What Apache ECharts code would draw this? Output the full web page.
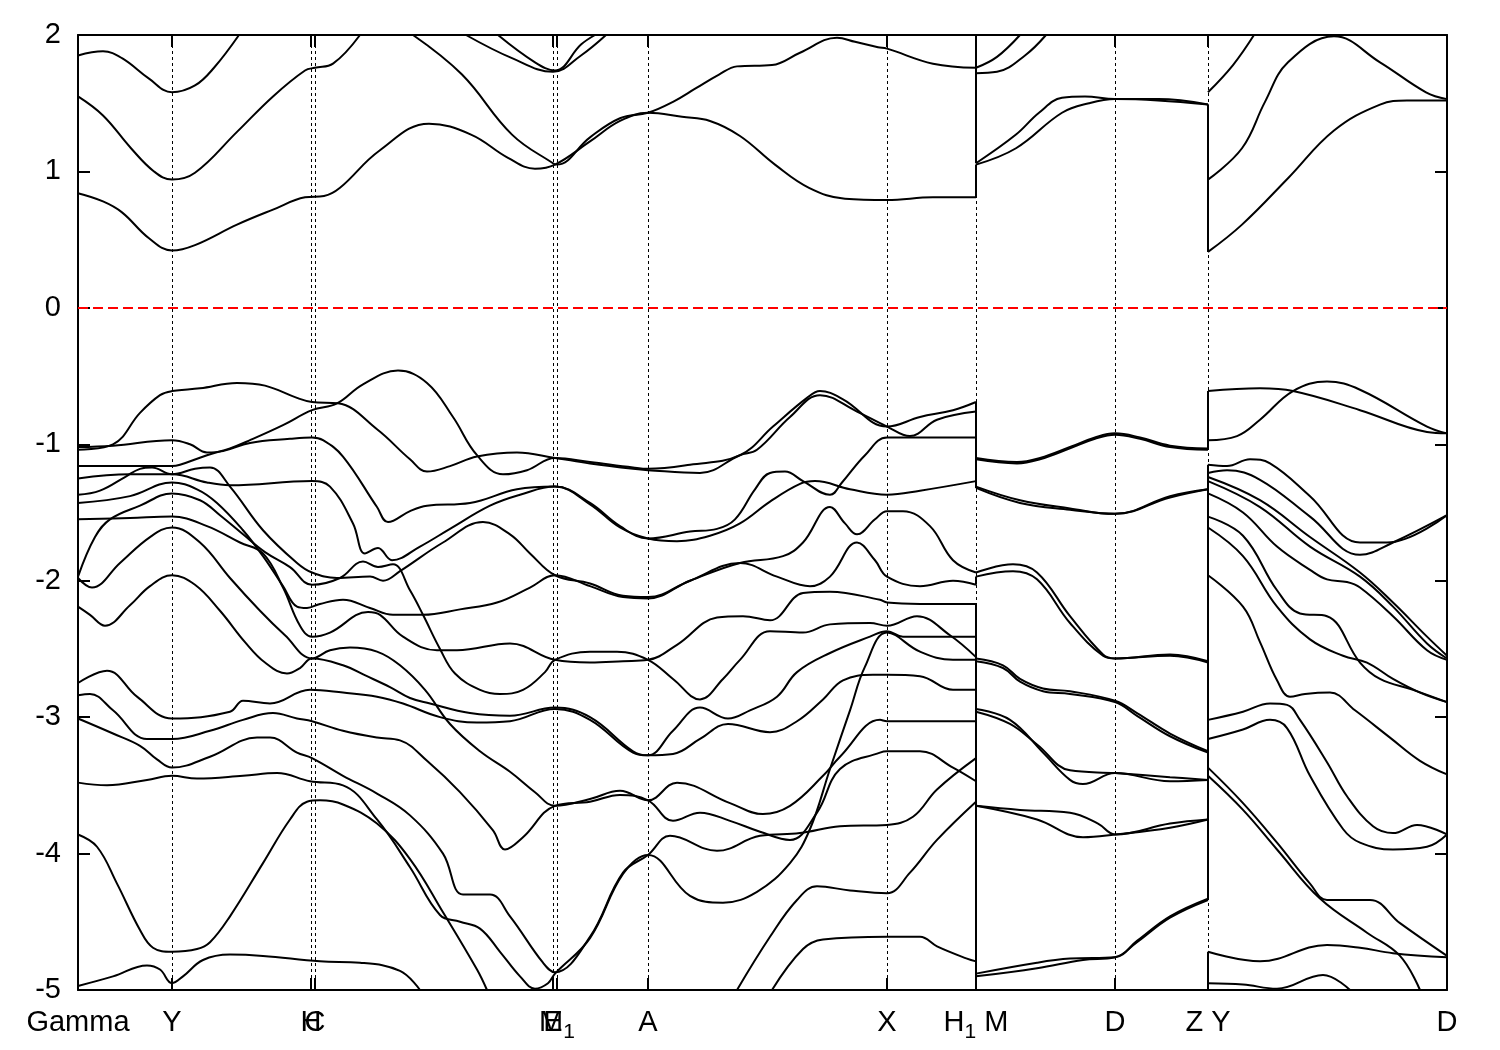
<!DOCTYPE html>
<html><head><meta charset="utf-8">
<script src="https://cdn.jsdelivr.net/npm/echarts@6/dist/echarts.min.js"></script>
<style>html,body{margin:0;padding:0;background:#fff}#c{width:1500px;height:1050px}</style>
</head><body><div id="c"></div>
<script>
// ---- k-path (arbitrary path-length units) and labels ----
const kPoints = [0, 94, 233, 237, 475, 479, 570, 809, 898, 1037, 1130, 1369];
const kNames  = ['Gamma','Y','H','C','E','M_1','A','X','H_1 M','D','Z Y','D'];
const kBreak1 = 898, kBreak2 = 1130;
const yTicks = [-5,-4,-3,-2,-1,0,1,2];

// ---- conduction bands, Gamma ... H1 ----
const c1 = [[0,0.84],[25,0.78],[44,0.70],[71,0.51],[94,0.42],[117,0.46],[159,0.61],[195,0.72],[227,0.81],[246,0.82],[262,0.88],[301,1.15],[351,1.35],[393,1.27],[430,1.10],[457,1.02],[477,1.05],[512,1.22],[542,1.37],[570,1.43],[604,1.40],[632,1.37],[662,1.26],[697,1.05],[731,0.88],[767,0.80],[809,0.79],[855,0.81],[898,0.81]];
const c2 = [[0,1.55],[25,1.41],[53,1.17],[76,1.00],[94,0.94],[117,0.99],[159,1.29],[195,1.55],[227,1.74],[237,1.76],[255,1.79],[282,2.0]];
const c3 = [[335,2.0],[384,1.71],[434,1.27],[475,1.06],[479,1.05],[512,1.25],[542,1.39],[570,1.43],[595,1.51],[618,1.61],[641,1.71],[659,1.77],[694,1.78],[722,1.87],[759,1.98],[777,1.95],[800,1.91],[809,1.90],[855,1.79],[898,1.76]];
const c4 = [[0,1.85],[25,1.88],[44,1.83],[71,1.68],[94,1.58],[117,1.63],[136,1.76],[161,2.0]];
const c5 = [[388,2.0],[434,1.83],[475,1.73],[503,1.85],[528,2.0]];
const c6 = [[420,2.0],[457,1.80],[477,1.74],[503,1.93],[517,2.0]];
// ---- conduction bands, M ... Z ----
const d1 = [[898,1.06],[938,1.27],[961,1.43],[984,1.54],[1007,1.55],[1037,1.53],[1080,1.53],[1130,1.49]];
const d2 = [[898,1.05],[938,1.17],[984,1.43],[1011,1.50],[1037,1.53],[1080,1.52],[1130,1.49]];
const d3 = [[898,1.76],[919,1.84],[942,2.0]];
const d4 = [[898,1.72],[919,1.73],[947,1.85],[968,2.0]];
// ---- conduction bands, Y ... D ----
const e1 = [[1130,0.41],[1164,0.61],[1210,0.95],[1256,1.30],[1302,1.49],[1329,1.52],[1369,1.52]];
const e2 = [[1130,0.94],[1164,1.17],[1187,1.51],[1210,1.80],[1256,1.99],[1302,1.80],[1348,1.58],[1369,1.53]];
const e3 = [[1130,1.58],[1155,1.78],[1176,2.0]];

// ---- valence bands, Gamma ... H1 ----
const vA = [[0,-1.04],[35,-1.00],[62,-0.77],[82,-0.64],[94,-0.61],[122,-0.59],[159,-0.55],[187,-0.57],[219,-0.66],[234,-0.69],[260,-0.70],[299,-0.89],[332,-1.11],[349,-1.20],[372,-1.16],[399,-1.09],[439,-1.06],[477,-1.10],[512,-1.14],[555,-1.18],[570,-1.19],[622,-1.21],[662,-1.08],[679,-1.04],[712,-0.80],[742,-0.64],[779,-0.76],[809,-0.87],[832,-0.94],[859,-0.82],[898,-0.76]];
const vB = [[0,-1.16],[94,-1.16],[102,-1.15],[129,-1.08],[152,-1.03],[172,-0.97],[205,-0.86],[234,-0.75],[259,-0.70],[285,-0.56],[320,-0.46],[349,-0.55],[375,-0.80],[399,-1.08],[425,-1.22],[449,-1.19],[477,-1.10],[512,-1.13],[555,-1.17],[570,-1.18],[612,-1.15],[662,-1.08],[695,-0.87],[729,-0.66],[742,-0.61],[765,-0.67],[809,-0.87],[842,-0.80],[875,-0.75],[898,-0.69]];
const vC = [[0,-1.02],[35,-1.01],[94,-0.97],[112,-1.00],[129,-1.06],[145,-1.05],[172,-0.99],[212,-0.96],[234,-0.95],[245,-0.97],[265,-1.09],[299,-1.46],[310,-1.57],[332,-1.49],[349,-1.45],[392,-1.43],[439,-1.33],[477,-1.31],[512,-1.43],[542,-1.60],[570,-1.69],[612,-1.64],[639,-1.62],[657,-1.55],[677,-1.33],[692,-1.21],[707,-1.20],[725,-1.27],[752,-1.37],[764,-1.28],[787,-1.08],[809,-0.95],[852,-0.95],[898,-0.95]];
const vD = [[0,-1.25],[52,-1.22],[94,-1.22],[129,-1.28],[152,-1.30],[234,-1.27],[252,-1.31],[275,-1.58],[287,-1.80],[300,-1.76],[314,-1.85],[342,-1.75],[372,-1.62],[412,-1.45],[442,-1.37],[477,-1.31],[512,-1.44],[542,-1.61],[570,-1.69],[599,-1.71],[632,-1.67],[662,-1.58],[692,-1.42],[722,-1.29],[737,-1.27],[772,-1.33],[809,-1.37],[842,-1.34],[898,-1.27]];
const vE = [[0,-1.37],[22,-1.34],[47,-1.24],[62,-1.18],[74,-1.17],[94,-1.22],[117,-1.18],[132,-1.17],[152,-1.31],[185,-1.63],[219,-1.87],[234,-1.94],[259,-1.98],[292,-1.97],[305,-2.00],[322,-1.93],[365,-1.72],[405,-1.57],[432,-1.66],[452,-1.80],[477,-1.96],[512,-2.02],[545,-2.11],[570,-2.12],[612,-2.00],[662,-1.87],[705,-1.82],[725,-1.72],[752,-1.46],[767,-1.58],[779,-1.66],[797,-1.55],[809,-1.49],[825,-1.49],[852,-1.60],[875,-1.85],[898,-1.94]];
const vF = [[0,-1.97],[17,-1.68],[32,-1.55],[62,-1.45],[94,-1.36],[122,-1.41],[142,-1.52],[165,-1.66],[187,-1.79],[212,-1.90],[234,-2.03],[262,-1.98],[285,-1.86],[300,-1.90],[315,-1.88],[332,-2.07],[345,-2.25],[362,-2.50],[377,-2.68],[402,-2.80],[422,-2.83],[445,-2.80],[467,-2.67],[477,-2.58],[512,-2.52],[539,-2.52],[570,-2.58],[595,-2.72],[622,-2.87],[645,-2.72],[662,-2.58],[692,-2.37],[725,-2.38],[752,-2.32],[792,-2.31],[809,-2.33],[839,-2.26],[872,-2.40],[898,-2.56]];
const vG = [[0,-1.43],[52,-1.38],[94,-1.28],[119,-1.33],[139,-1.43],[165,-1.63],[185,-1.82],[205,-2.04],[219,-2.19],[229,-2.20],[242,-2.17],[265,-2.14],[292,-2.20],[315,-2.25],[345,-2.25],[382,-2.21],[419,-2.16],[452,-2.05],[477,-1.96],[512,-2.04],[545,-2.12],[570,-2.13],[612,-2.00],[662,-1.87],[699,-1.97],[732,-2.04],[752,-1.97],[779,-1.72],[797,-1.85],[809,-1.97],[842,-2.04],[875,-2.00],[898,-2.03]];
const vH = [[0,-1.55],[52,-1.54],[94,-1.53],[129,-1.60],[162,-1.72],[185,-1.80],[205,-2.05],[222,-2.33],[234,-2.41],[252,-2.38],[290,-2.23],[302,-2.25],[325,-2.41],[359,-2.51],[379,-2.51],[432,-2.46],[477,-2.58],[512,-2.60],[545,-2.59],[570,-2.58],[599,-2.47],[639,-2.27],[665,-2.26],[692,-2.29],[725,-2.09],[752,-2.08],[802,-2.14],[809,-2.16],[842,-2.17],[898,-2.17]];
const vI = [[0,-1.98],[14,-2.05],[42,-1.87],[72,-1.68],[94,-1.61],[122,-1.72],[152,-1.98],[182,-2.22],[207,-2.40],[234,-2.57],[252,-2.51],[272,-2.49],[299,-2.52],[322,-2.62],[347,-2.80],[372,-3.05],[402,-3.25],[432,-3.40],[457,-3.55],[477,-3.65],[512,-3.60],[542,-3.54],[570,-3.61],[599,-3.48],[652,-3.63],[685,-3.71],[712,-3.65],[745,-3.43],[762,-3.29],[802,-3.02],[809,-3.03],[850,-3.03],[898,-3.03]];
const vJ = [[0,-2.19],[12,-2.25],[27,-2.33],[52,-2.18],[72,-2.04],[94,-1.96],[117,-2.03],[142,-2.22],[167,-2.45],[187,-2.60],[209,-2.68],[222,-2.64],[234,-2.57],[265,-2.62],[289,-2.70],[312,-2.78],[332,-2.86],[352,-2.90],[392,-2.97],[432,-2.99],[477,-2.93],[512,-3.00],[555,-3.25],[570,-3.28],[595,-3.10],[622,-2.93],[650,-3.01],[672,-2.95],[699,-2.85],[719,-2.67],[752,-2.53],[792,-2.41],[809,-2.37],[825,-2.41],[898,-2.41]];
const vK = [[0,-2.75],[29,-2.66],[59,-2.85],[94,-3.01],[152,-2.96],[165,-2.88],[192,-2.90],[232,-2.80],[265,-2.82],[299,-2.85],[325,-2.90],[362,-3.00],[399,-3.04],[432,-3.03],[477,-2.94],[512,-3.02],[555,-3.26],[570,-3.28],[595,-3.27],[622,-3.16],[650,-3.05],[692,-3.11],[719,-3.03],[745,-2.87],[765,-2.73],[795,-2.69],[809,-2.69],[842,-2.70],[875,-2.80],[898,-2.80]];
const vL = [[0,-2.84],[12,-2.83],[35,-2.95],[69,-3.16],[94,-3.16],[132,-3.10],[165,-3.02],[195,-2.97],[219,-3.01],[234,-3.03],[265,-3.10],[299,-3.15],[322,-3.17],[349,-3.32],[382,-3.55],[415,-3.83],[427,-3.97],[445,-3.88],[477,-3.65],[512,-3.62],[542,-3.57],[570,-3.61],[595,-3.76],[622,-3.70],[652,-3.76],[682,-3.84],[712,-3.90],[739,-3.70],[762,-3.38],[802,-3.26],[809,-3.25],[842,-3.25],[875,-3.37],[898,-3.47]];
const vM = [[0,-3.01],[35,-3.12],[62,-3.21],[79,-3.31],[94,-3.37],[132,-3.29],[179,-3.15],[192,-3.15],[219,-3.26],[234,-3.30],[265,-3.43],[299,-3.56],[332,-3.72],[365,-4.00],[385,-4.30],[412,-4.30],[432,-4.46],[465,-4.80],[477,-4.87],[512,-4.61],[545,-4.14],[570,-4.01],[592,-3.87],[639,-3.98],[682,-3.87],[722,-3.85],[762,-3.80],[809,-3.79],[835,-3.73],[859,-3.53],[898,-3.30]];
const vN = [[0,-3.48],[29,-3.50],[69,-3.46],[94,-3.43],[119,-3.45],[165,-3.43],[199,-3.41],[232,-3.47],[265,-3.50],[299,-3.75],[332,-4.10],[362,-4.45],[382,-4.50],[402,-4.55],[422,-4.72],[442,-4.90],[457,-4.99],[470,-4.95],[477,-4.88],[512,-4.62],[545,-4.15],[570,-4.01],[612,-4.31],[645,-4.36],[679,-4.28],[712,-4.07],[732,-3.82],[752,-3.38],[772,-2.95],[787,-2.63],[809,-2.38],[842,-2.52],[875,-2.58],[898,-2.58]];
const vO = [[0,-3.86],[19,-3.95],[39,-4.22],[62,-4.56],[75,-4.69],[94,-4.72],[119,-4.70],[132,-4.65],[152,-4.46],[185,-4.07],[212,-3.75],[229,-3.62],[242,-3.61],[265,-3.64],[299,-3.78],[332,-4.04],[365,-4.43],[399,-4.85],[409,-5.0]];
const vP = [[0,-4.97],[35,-4.90],[69,-4.82],[82,-4.85],[94,-4.95],[105,-4.90],[125,-4.78],[152,-4.74],[185,-4.75],[242,-4.79],[282,-4.80],[322,-4.86],[342,-5.0]];
const vQ = [[659,-5.0],[692,-4.61],[719,-4.34],[739,-4.24],[772,-4.27],[809,-4.29],[832,-4.14],[859,-3.90],[898,-3.62]];
const vR = [[694,-5.0],[725,-4.70],[745,-4.63],[809,-4.61],[842,-4.61],[859,-4.68],[889,-4.77],[898,-4.79]];
// ---- valence bands, M ... Z ----
const w1a = [[898,-1.10],[939,-1.13],[962,-1.10],[992,-1.02],[1017,-0.95],[1037,-0.92],[1062,-0.95],[1092,-1.01],[1130,-1.03]];
const w1b = [[898,-1.11],[939,-1.14],[962,-1.11],[992,-1.03],[1017,-0.96],[1037,-0.93],[1062,-0.96],[1092,-1.02],[1130,-1.04]];
const w2a = [[898,-1.31],[942,-1.41],[992,-1.47],[1037,-1.51],[1092,-1.38],[1130,-1.33]];
const w2b = [[898,-1.32],[942,-1.43],[992,-1.48],[1037,-1.51],[1092,-1.39],[1130,-1.33]];
const w3a = [[898,-1.94],[935,-1.88],[959,-1.94],[992,-2.26],[1025,-2.54],[1037,-2.57],[1092,-2.54],[1130,-2.59]];
const w3b = [[898,-1.97],[935,-1.93],[959,-1.99],[992,-2.31],[1025,-2.55],[1037,-2.57],[1092,-2.55],[1130,-2.60]];
const w4a = [[898,-2.57],[925,-2.62],[942,-2.72],[965,-2.79],[992,-2.81],[1037,-2.88],[1059,-2.97],[1092,-3.12],[1130,-3.25]];
const w4b = [[898,-2.59],[925,-2.64],[942,-2.74],[965,-2.81],[992,-2.83],[1037,-2.89],[1059,-2.99],[1092,-3.14],[1130,-3.26]];
const w5a = [[898,-2.94],[932,-3.02],[965,-3.26],[992,-3.46],[1005,-3.49],[1037,-3.41],[1092,-3.47],[1130,-3.46]];
const w5b = [[898,-2.96],[932,-3.05],[959,-3.20],[992,-3.39],[1037,-3.41],[1092,-3.44],[1130,-3.46]];
const w6a = [[898,-3.65],[942,-3.68],[992,-3.70],[1020,-3.78],[1037,-3.86],[1092,-3.78],[1130,-3.75]];
const w6b = [[898,-3.65],[959,-3.75],[1005,-3.88],[1037,-3.86],[1092,-3.81],[1130,-3.75]];
const w7a = [[898,-4.88],[959,-4.80],[992,-4.77],[1037,-4.76],[1059,-4.64],[1092,-4.46],[1130,-4.33]];
const w7b = [[898,-4.90],[959,-4.84],[1005,-4.78],[1037,-4.76],[1059,-4.65],[1092,-4.47],[1130,-4.34]];
// ---- valence bands, Y ... D ----
const x1 = [[1130,-0.61],[1182,-0.59],[1215,-0.61],[1282,-0.75],[1349,-0.91],[1369,-0.92]];
const x2 = [[1130,-0.97],[1159,-0.94],[1182,-0.82],[1215,-0.61],[1249,-0.54],[1282,-0.60],[1349,-0.87],[1369,-0.92]];
const x3 = [[1130,-1.15],[1149,-1.16],[1172,-1.11],[1192,-1.14],[1232,-1.38],[1282,-1.72],[1309,-1.72],[1369,-1.52]];
const x4 = [[1130,-1.21],[1149,-1.19],[1182,-1.26],[1232,-1.53],[1282,-1.81],[1315,-1.72],[1369,-1.52]];
const x5 = [[1130,-1.24],[1182,-1.41],[1232,-1.68],[1282,-1.94],[1315,-2.16],[1349,-2.41],[1369,-2.55]];
const x6 = [[1130,-1.27],[1182,-1.46],[1232,-1.75],[1282,-1.97],[1315,-2.19],[1349,-2.46],[1369,-2.57]];
const x7 = [[1130,-1.36],[1165,-1.50],[1199,-1.75],[1232,-1.92],[1249,-1.99],[1269,-2.01],[1282,-2.05],[1315,-2.26],[1349,-2.51],[1369,-2.58]];
const x8 = [[1130,-1.53],[1165,-1.67],[1199,-2.07],[1222,-2.24],[1249,-2.26],[1282,-2.60],[1302,-2.72],[1335,-2.80],[1369,-2.89]];
const x9 = [[1130,-1.61],[1165,-1.82],[1199,-2.19],[1232,-2.43],[1265,-2.55],[1289,-2.60],[1315,-2.72],[1342,-2.82],[1369,-2.89]];
const x10 = [[1130,-1.96],[1165,-2.19],[1182,-2.45],[1199,-2.73],[1212,-2.85],[1227,-2.83],[1252,-2.82],[1277,-2.95],[1312,-3.15],[1342,-3.32],[1369,-3.42]];
const x11 = [[1130,-3.02],[1165,-2.96],[1192,-2.90],[1209,-2.91],[1222,-3.02],[1249,-3.33],[1269,-3.58],[1295,-3.80],[1315,-3.85],[1339,-3.79],[1369,-3.86]];
const x12 = [[1130,-3.16],[1165,-3.09],[1192,-3.02],[1209,-3.08],[1232,-3.43],[1265,-3.82],[1282,-3.92],[1315,-3.97],[1349,-3.95],[1369,-3.86]];
const x13 = [[1130,-3.37],[1165,-3.63],[1199,-3.92],[1232,-4.22],[1249,-4.34],[1292,-4.34],[1322,-4.51],[1369,-4.75]];
const x14 = [[1130,-3.43],[1165,-3.68],[1199,-3.97],[1242,-4.33],[1289,-4.58],[1322,-4.75],[1342,-5.0]];
const x15 = [[1130,-4.72],[1182,-4.79],[1249,-4.67],[1282,-4.69],[1315,-4.73],[1369,-4.76]];
const x16 = [[1130,-4.95],[1165,-4.96],[1199,-4.99],[1245,-4.89],[1272,-5.0]];

// ---- band jumps at the path breaks (energy before -> after) ----
const jumpH1M = [[0.81,1.05],[1.76,1.06],[2.0,1.72],[2.0,1.76],[-0.69,-1.10],[-0.76,-1.11],[-0.95,-1.31],[-1.27,-1.32],[-1.94,-1.94],[-2.03,-1.97],[-2.17,-2.57],[-2.41,-2.59],[-2.56,-2.94],[-2.58,-2.96],[-2.80,-3.65],[-3.03,-3.65],[-3.30,-4.88],[-3.47,-4.90],[-3.62,-5.0],[-4.79,-5.0]];
const jumpZY = [[1.49,0.41],[1.49,0.94],[-1.03,-0.61],[-1.04,-0.97],[-1.33,-1.15],[-1.33,-1.21],[-2.59,-1.24],[-2.60,-1.27],[-3.25,-1.36],[-3.26,-1.53],[-3.46,-1.61],[-3.46,-1.96],[-3.75,-3.02],[-3.75,-3.16],[-4.33,-3.37],[-4.34,-3.43],[-5.0,-4.72],[-5.0,-4.95]];

const bands = [c1,c2,c3,c4,c5,c6,d1,d2,d3,d4,e1,e2,e3,
  vA,vB,vC,vD,vE,vF,vG,vH,vI,vJ,vK,vL,vM,vN,vO,vP,vQ,vR,
  w1a,w1b,w2a,w2b,w3a,w3b,w4a,w4b,w5a,w5b,w6a,w6b,w7a,w7b,
  x1,x2,x3,x4,x5,x6,x7,x8,x9,x10,x11,x12,x13,x14,x15,x16];

const FONT = '"Liberation Sans", Arial, Helvetica, sans-serif';
const LW = 2;
function richLabel(s){
  const parts = s.split(/_(\d)/);
  let out = '';
  parts.forEach((p,i)=>{ if(p==='') return; out += (i%2 ? '{b|'+p+'}' : '{a|'+p+'}'); });
  return out;
}
const series = [];
bands.forEach(b => series.push({
  type:'line', data:b, smooth:0.4, showSymbol:false, symbol:'none', silent:true,
  lineStyle:{color:'#000', width:LW}, z:3, animation:false
}));
function addJumps(k, list){
  list.forEach(p => series.push({
    type:'line', data:[[k,p[0]],[k,p[1]]], smooth:false, showSymbol:false, symbol:'none', silent:true,
    lineStyle:{color:'#000', width:LW}, z:3, animation:false
  }));
}
addJumps(kBreak1, jumpH1M);
addJumps(kBreak2, jumpZY);
// guide lines: dotted verticals at the special points and the red dashed Fermi level
series.push({
  type:'line', data:[], silent:true, z:1, animation:false,
  markLine:{ silent:true, symbol:['none','none'], animation:false, label:{show:false},
    data: kPoints.slice(1, -1).map(k => ({xAxis:k, lineStyle:{color:'#000', width:1, type:[3,3]}}))
      .concat([{yAxis:0, lineStyle:{color:'#ff0000', width:2, type:[10,5]}}])
  }
});

const xAxisBase = {
  type:'value', min:0, max:1369,
  axisLine:{show:true, onZero:false, lineStyle:{color:'#000', width:2}},
  axisTick:{show:true, inside:true, length:12, customValues:kPoints, lineStyle:{color:'#000', width:2}},
  splitLine:{show:false}
};
const yAxisBase = {
  type:'value', min:-5, max:2, interval:1,
  axisLine:{show:true, onZero:false, lineStyle:{color:'#000', width:2}},
  axisTick:{show:true, inside:true, length:12, lineStyle:{color:'#000', width:2}},
  splitLine:{show:false}
};
const option = {
  animation:false,
  backgroundColor:'#fff',
  grid:{left:78, right:53, top:35, bottom:60},
  xAxis:[
    Object.assign({}, xAxisBase, {position:'bottom',
      axisLabel:{show:true, customValues:kPoints, margin:23, color:'#000',
        formatter:(v)=>richLabel(kNames[kPoints.indexOf(v)] || ''),
        rich:{
          a:{fontSize:29, fontFamily:FONT, color:'#000', lineHeight:30, verticalAlign:'bottom', padding:[0,0,6,0]},
          b:{fontSize:21, fontFamily:FONT, color:'#000', lineHeight:20, verticalAlign:'bottom'}
        }}}),
    Object.assign({}, xAxisBase, {position:'top', axisLabel:{show:false}})
  ],
  yAxis:[
    Object.assign({}, yAxisBase, {position:'left',
      axisLabel:{show:true, fontSize:29, fontFamily:FONT, color:'#000', margin:17,
        customValues:yTicks}}),
    Object.assign({}, yAxisBase, {position:'right', axisLabel:{show:false}})
  ],
  series: series
};
const chart = echarts.init(document.getElementById('c'), null, {renderer:'canvas'});
chart.setOption(option);
</script></body></html>
